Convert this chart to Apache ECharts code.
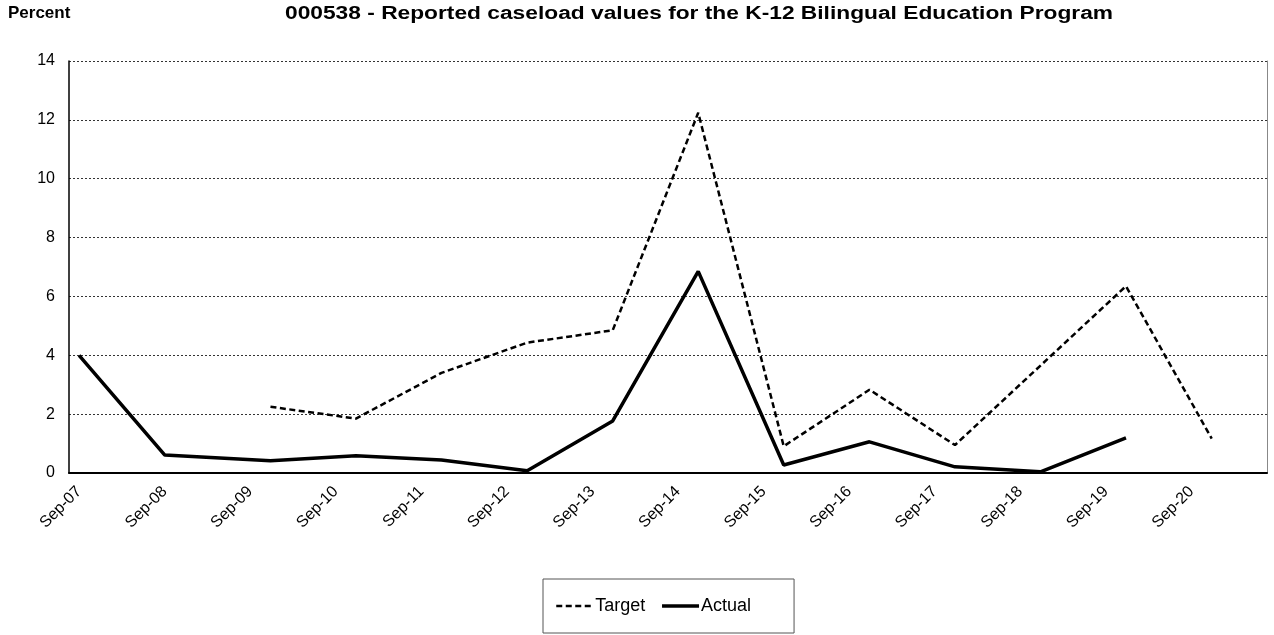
<!DOCTYPE html>
<html>
<head>
<meta charset="utf-8">
<script src="https://cdn.jsdelivr.net/npm/echarts@6/dist/echarts.min.js"></script>
<style>
html,body{margin:0;padding:0;background:#fff;}
#chart{width:1274px;height:635px;}
</style>
</head>
<body>
<div id="chart"></div>
<script>
// ---- data ----
const labelOrigin = '2007-10-14';   // date under the first tick label
const axisStart = '2007-09-01';
const axisEnd = '2021-09-01';
const tickLabels = ['Sep-07','Sep-08','Sep-09','Sep-10','Sep-11','Sep-12','Sep-13','Sep-14','Sep-15','Sep-16','Sep-17','Sep-18','Sep-19','Sep-20'];
const dates = ['2007-10-14','2008-10-14','2010-01-08','2011-01-08','2012-01-08','2013-01-08','2014-01-08','2015-01-08','2016-01-08','2017-01-08','2018-01-08','2019-01-08','2020-01-08','2021-01-08'];
const target = [null, null, 2.25, 1.85, 3.40, 4.43, 4.85, 12.24, 0.91, 2.83, 0.95, 3.65, 6.35, 1.17];
const actual = [4.00, 0.61, 0.42, 0.59, 0.44, 0.08, 1.77, 6.85, 0.27, 1.06, 0.21, 0.04, 1.19, null];
const yTicks = {min: 0, max: 14, interval: 2};
const titleText = '000538 - Reported caseload values for the K-12 Bilingual Education Program';
const unitText = 'Percent';

// ---- helpers ----
const YEAR = 365.25 * 24 * 3600 * 1000;
const t0 = Date.parse(labelOrigin);
const toYears = d => (Date.parse(d) - t0) / YEAR;
const pairs = vals => dates.map((d, i) => [toYears(d), vals[i]]);
const labelValues = tickLabels.map((_, i) => i);

const chart = echarts.init(document.getElementById('chart'));
const FONT = 'Liberation Sans, Arial, sans-serif';
const targetLine = {color: '#000', width: 2.5, type: [6, 3.5]};
const actualLine = {color: '#000', width: 3.5, type: 'solid'};

chart.setOption({
  animation: false,
  backgroundColor: '#fff',
  textStyle: {fontFamily: FONT},
  graphic: [
    {type: 'text', x: 8, y: 5, style: {text: unitText, font: 'bold 17px ' + FONT, fill: '#000'}},
    {type: 'text', x: 285, y: 5, scaleX: 1.3, originX: 0, style: {text: titleText, font: 'bold 17.5px ' + FONT, fill: '#000'}}
  ],
  grid: {left: 69, right: 7, top: 61, bottom: 162, containLabel: false},
  xAxis: {
    type: 'value',
    min: toYears(axisStart),
    max: toYears(axisEnd),
    axisLine: {show: true, onZero: false, lineStyle: {color: '#000', width: 2}},
    axisTick: {show: false},
    splitLine: {show: false},
    axisLabel: {
      rotate: 45, margin: 16, fontSize: 16, color: '#000', fontFamily: FONT,
      customValues: labelValues,
      formatter: v => tickLabels[Math.round(v)] || ''
    }
  },
  yAxis: [{
    type: 'value', position: 'left',
    min: yTicks.min, max: yTicks.max, interval: yTicks.interval,
    axisLine: {show: true, onZero: false, lineStyle: {color: '#000', width: 1.5}},
    axisTick: {show: false},
    axisLabel: {fontSize: 16, color: '#000', margin: 14, fontFamily: FONT},
    splitLine: {show: true, lineStyle: {color: '#333', width: 1, type: [2, 2]}}
  }, {
    type: 'value', position: 'right',
    min: yTicks.min, max: yTicks.max, interval: yTicks.interval,
    axisLine: {show: true, onZero: false, lineStyle: {color: '#888', width: 1}},
    axisTick: {show: false}, axisLabel: {show: false}, splitLine: {show: false}
  }],
  legend: {
    left: 543, top: 579,
    padding: [18, 43, 18, 12],
    itemWidth: 37, itemHeight: 14, itemGap: 15,
    backgroundColor: '#fff', borderColor: '#555', borderWidth: 1, borderRadius: 0,
    itemStyle: {opacity: 0},
    textStyle: {fontSize: 18, color: '#000', fontFamily: FONT, padding: [0, 0, 0, -3]},
    data: [
      {name: 'Target', lineStyle: {width: targetLine.width, type: targetLine.type, color: '#000'}},
      {name: 'Actual', lineStyle: {width: actualLine.width, type: 'solid', color: '#000'}}
    ]
  },
  series: [
    {
      name: 'Target', type: 'line', data: pairs(target),
      symbol: 'none', showSymbol: false, connectNulls: false,
      lineStyle: targetLine,
      itemStyle: {color: '#000'}
    },
    {
      name: 'Actual', type: 'line', data: pairs(actual),
      symbol: 'none', showSymbol: false, connectNulls: false,
      lineStyle: actualLine,
      itemStyle: {color: '#000'}
    }
  ]
});
</script>
</body>
</html>
